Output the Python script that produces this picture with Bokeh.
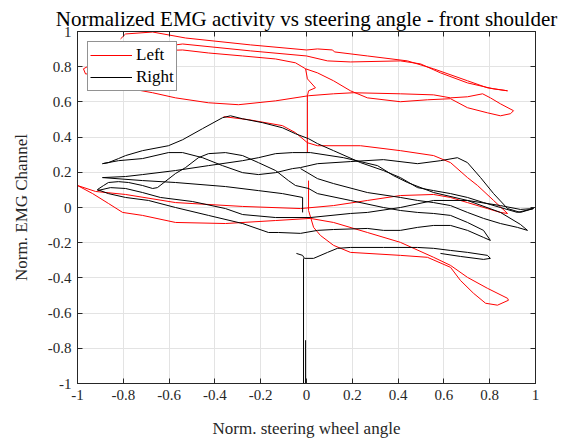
from bokeh.plotting import figure
from bokeh.models import LinearAxis, FixedTicker, Legend, LegendItem, Range1d
from bokeh.embed import file_html
from bokeh.resources import INLINE

title_text = "Normalized EMG activity vs steering angle - front shoulder"
x_label = "Norm. steering wheel angle"
y_label = "Norm. EMG Channel"
tick_values = [-1, -0.8, -0.6, -0.4, -0.2, 0, 0.2, 0.4, 0.6, 0.8, 1]
tick_labels = ["-1", "-0.8", "-0.6", "-0.4", "-0.2", "0", "0.2", "0.4", "0.6", "0.8", "1"]

# ---- Left channel (red) ----
left1_x = [-0.812, -0.79, -0.672, -0.528, -0.245, 0.0, 0.048, 0.114, 0.122, 0.266, 0.441, 0.555, 0.703, 0.79, 0.878,
           0.817, 0.703, 0.585, 0.498, 0.41, 0.192, 0.092, 0.0, -0.245, -0.541, -0.769, -0.943, -0.974, -0.965, -0.952,
           -0.856, -0.79, -0.672, -0.572, -0.428, -0.297, -0.135, 0.009, 0.118, 0.205, 0.41, 0.555, 0.629, 0.703, 0.769,
           0.803, 0.847, 0.904, 0.891, 0.847, 0.79, 0.703, 0.629, 0.528, 0.41, 0.266, 0.192, 0.118, 0.048, -0.004,
           -0.048, -0.135, -0.279, -0.428, -0.541, -0.681]
left1_y = [0.958, 0.986, 0.997, 0.963, 0.924, 0.895, 0.901, 0.895, 0.884, 0.861, 0.833, 0.788, 0.72, 0.68, 0.663,
           0.674, 0.708, 0.765, 0.816, 0.833, 0.827, 0.833, 0.861, 0.89, 0.929, 0.89, 0.81, 0.788, 0.759, 0.759,
           0.708, 0.68, 0.652, 0.623, 0.595, 0.584, 0.606, 0.635, 0.646, 0.652, 0.646, 0.64, 0.623, 0.629, 0.646,
           0.623, 0.589, 0.55, 0.533, 0.521, 0.538, 0.567, 0.618, 0.612, 0.601, 0.623, 0.663, 0.72, 0.765, 0.788,
           0.822, 0.844, 0.861, 0.878, 0.895, 0.89]

left2_x = [-0.004, 0.004, 0.039, 0.009, 0.004, 0.004]
left2_y = [0.788, 0.731, 0.68, 0.663, 0.635, 0.312]

left3_x = [-0.362, -0.253, -0.105, -0.048, 0.004, 0.048, 0.236, 0.41, 0.555, 0.629, 0.703, 0.747, 0.817, 0.878,
           0.847, 0.79, 0.703, 0.629, 0.555, 0.41, 0.266, 0.118, -0.026, -0.279, -0.572, -0.79, -0.921, -1.0,
           -0.934, -0.865, -0.803, -0.716, -0.572, -0.354, -0.135, 0.017, 0.118, 0.266, 0.41, 0.555, 0.629, 0.703,
           0.79, 0.878, 0.882, 0.834, 0.782, 0.729, 0.672, 0.629, 0.528, 0.41, 0.192, 0.118, 0.061, 0.031, 0.009, 0.009]
left3_y = [0.516, 0.499, 0.465, 0.425, 0.368, 0.351, 0.351, 0.323, 0.295, 0.255, 0.17, 0.125, 0.04, -0.034,
           -0.028, -0.006, 0.028, 0.057, 0.074, 0.068, 0.04, 0.011, -0.006, 0.006, 0.028, 0.074, 0.091, 0.125,
           0.079, 0.023, -0.028, -0.045, -0.085, -0.091, -0.074, -0.062, -0.085, -0.142, -0.198, -0.283, -0.329, -0.397,
           -0.459, -0.516, -0.527, -0.555, -0.544, -0.487, -0.414, -0.34, -0.283, -0.272, -0.255, -0.215, -0.159, -0.113, -0.017, 0.153]

# ---- Right channel (black) ----
right1_x = [-0.891, -0.865, -0.821, -0.79, -0.716, -0.603, -0.541, -0.454, -0.367, -0.332, -0.279, -0.192, -0.105,
            -0.048, 0.009, 0.048, 0.118, 0.236, 0.336, 0.41, 0.485, 0.555, 0.629, 0.703, 0.773, 0.847, 0.921, 0.991,
            0.934, 0.878, 0.817, 0.76, 0.703, 0.659, 0.585, 0.485, 0.336, 0.192, 0.048, -0.026, -0.061, -0.135, -0.21,
            -0.279, -0.367, -0.454, -0.541, -0.603, -0.716, -0.821, -0.891]
right1_y = [0.249, 0.255, 0.278, 0.295, 0.323, 0.351, 0.385, 0.448, 0.51, 0.521, 0.504, 0.482, 0.453,
            0.419, 0.391, 0.363, 0.323, 0.255, 0.21, 0.17, 0.113, 0.096, 0.079, 0.057, 0.028, 0.0, -0.028, -0.006,
            -0.028, -0.006, 0.079, 0.17, 0.255, 0.283, 0.266, 0.249, 0.272, 0.261, 0.249, 0.227, 0.221, 0.198, 0.187,
            0.198, 0.238, 0.283, 0.312, 0.312, 0.278, 0.266, 0.249]

right2_x = [-0.017, -0.017, -0.105, -0.21, -0.354, -0.572, -0.716, -0.891, -0.79, -0.716, -0.572, -0.428, -0.279,
            -0.21, -0.135, -0.061, 0.017, 0.162, 0.31, 0.38, 0.441, 0.555, 0.703, 0.847, 0.934, 0.965, 0.921, 0.847,
            0.773, 0.703, 0.629, 0.555, 0.485, 0.41, 0.266, 0.118, 0.048, -0.026]
right2_y = [-0.028, 0.057, 0.079, 0.096, 0.119, 0.142, 0.153, 0.17, 0.176, 0.187, 0.21, 0.238, 0.266,
            0.283, 0.306, 0.312, 0.312, 0.283, 0.238, 0.181, 0.142, 0.085, 0.04, -0.028, -0.096, -0.13, -0.113, -0.091,
            -0.062, -0.028, 0.011, 0.028, 0.04, 0.057, 0.085, 0.136, 0.164, 0.221]

right3_x = [-0.913, -0.886, -0.865, -0.821, -0.777, -0.716, -0.672, -0.651, -0.572, -0.528, -0.472, -0.428, -0.354,
            -0.279, -0.21, -0.135, -0.079, -0.048, 0.009, 0.048, 0.192, 0.336, 0.41, 0.485, 0.555, 0.629, 0.703, 0.773,
            0.803, 0.773, 0.703, 0.629, 0.555, 0.485, 0.41, 0.336, 0.266, 0.118, 0.048, -0.026, -0.122, -0.166, -0.279,
            -0.428, -0.572, -0.69, -0.79, -0.865, -0.913]
right3_y = [0.102, 0.125, 0.142, 0.147, 0.142, 0.125, 0.108, 0.113, 0.193, 0.227, 0.283, 0.306, 0.312,
            0.295, 0.255, 0.21, 0.153, 0.125, 0.108, 0.079, 0.04, 0.0, -0.017, -0.028, -0.034, -0.045, -0.085, -0.13,
            -0.187, -0.17, -0.13, -0.102, -0.102, -0.113, -0.13, -0.13, -0.119, -0.125, -0.13, -0.147, -0.142, -0.142, -0.091,
            -0.045, 0.0, 0.04, 0.057, 0.079, 0.102]

right4_x = [-0.913, -0.856, -0.79, -0.716, -0.638, -0.498, -0.354, -0.279, -0.135, 0.017, 0.192, 0.266, 0.41,
            0.555, 0.703, 0.847, 0.934, 0.991]
right4_y = [0.096, 0.113, 0.108, 0.085, 0.057, 0.034, -0.006, -0.04, -0.057, -0.057, -0.034, -0.028, 0.0,
            0.04, 0.04, 0.011, -0.011, -0.006]

right5_x = [-0.044, -0.017, -0.009, 0.031, 0.092, 0.135, 0.192, 0.336, 0.485, 0.555, 0.629, 0.703, 0.79, 0.803,
            0.773, 0.672, 0.585]
right5_y = [-0.261, -0.272, -0.289, -0.289, -0.255, -0.232, -0.227, -0.227, -0.227, -0.232, -0.244, -0.255, -0.272, -0.289,
            -0.295, -0.278, -0.261]

right6_x = [-0.013, -0.013]
right6_y = [-0.289, -1.0]
right7_x = [-0.004, -0.004]
right7_y = [-0.754, -1.0]

RED = "#ff0000"
BLACK = "#000000"
AXC = "#262626"
FONT = "Liberation Serif"

p = figure(width=570, height=443, x_range=Range1d(-1, 1), y_range=Range1d(-1, 1),
           output_backend="svg", toolbar_location=None, title=title_text,
           min_border_left=77, min_border_right=35, min_border_top=31, min_border_bottom=60)

p.title.text_font = FONT
p.title.text_font_size = "21px"
p.title.text_font_style = "normal"
p.title.align = "center"
p.title.text_color = "#000000"
p.title.standoff = 2

p.background_fill_color = "white"
p.border_fill_color = "white"
p.outline_line_color = AXC
p.outline_line_width = 1

red_lines = []
for xs, ys in [(left1_x, left1_y), (left2_x, left2_y), (left3_x, left3_y)]:
    red_lines.append(p.line(xs, ys, line_color=RED, line_width=1, line_join="round"))
black_lines = []
for xs, ys in [(right1_x, right1_y), (right2_x, right2_y), (right3_x, right3_y), (right4_x, right4_y),
               (right5_x, right5_y), (right6_x, right6_y), (right7_x, right7_y)]:
    black_lines.append(p.line(xs, ys, line_color=BLACK, line_width=1, line_join="round"))

ticker = FixedTicker(ticks=tick_values)
overrides = {v: s for v, s in zip(tick_values, tick_labels)}
blank_overrides = {v: "" for v in tick_values}

for ax in [p.xaxis[0], p.yaxis[0]]:
    ax.ticker = ticker
    ax.major_label_overrides = overrides
    ax.major_label_text_font = FONT
    ax.major_label_text_font_size = "15px"
    ax.major_label_text_color = AXC
    ax.axis_label_text_font = FONT
    ax.axis_label_text_font_size = "17px"
    ax.axis_label_text_font_style = "normal"
    ax.axis_label_text_color = AXC
    ax.major_tick_in = 5
    ax.major_tick_out = 0
    ax.minor_tick_line_color = None
    ax.axis_line_color = AXC
    ax.major_tick_line_color = AXC
    ax.major_label_standoff = 6

p.xaxis.axis_label = x_label
p.yaxis.axis_label = y_label
p.xaxis.axis_label_standoff = 16
p.yaxis.axis_label_standoff = 14

for side in ["right", "above"]:
    ax = LinearAxis(ticker=ticker, major_label_overrides=blank_overrides, major_tick_in=5, major_tick_out=0,
                    minor_tick_line_color=None, axis_line_color=AXC, major_tick_line_color=AXC,
                    major_label_standoff=0)
    p.add_layout(ax, side)

p.xgrid.ticker = ticker
p.ygrid.ticker = ticker
p.xgrid.grid_line_color = "#e3e3e3"
p.ygrid.grid_line_color = "#e3e3e3"

legend = Legend(items=[LegendItem(label="Left", renderers=[red_lines[0]]),
                       LegendItem(label="Right", renderers=[black_lines[0]])],
                location="top_left", margin=10, padding=2, spacing=0,
                label_text_font=FONT, label_text_font_size="17px", label_text_color="#000000",
                glyph_width=42, glyph_height=22, label_height=22, label_standoff=4,
                border_line_color="#262626", border_line_width=1, background_fill_alpha=1.0)
p.add_layout(legend)

open("out.html", "w").write(file_html(p, INLINE))
